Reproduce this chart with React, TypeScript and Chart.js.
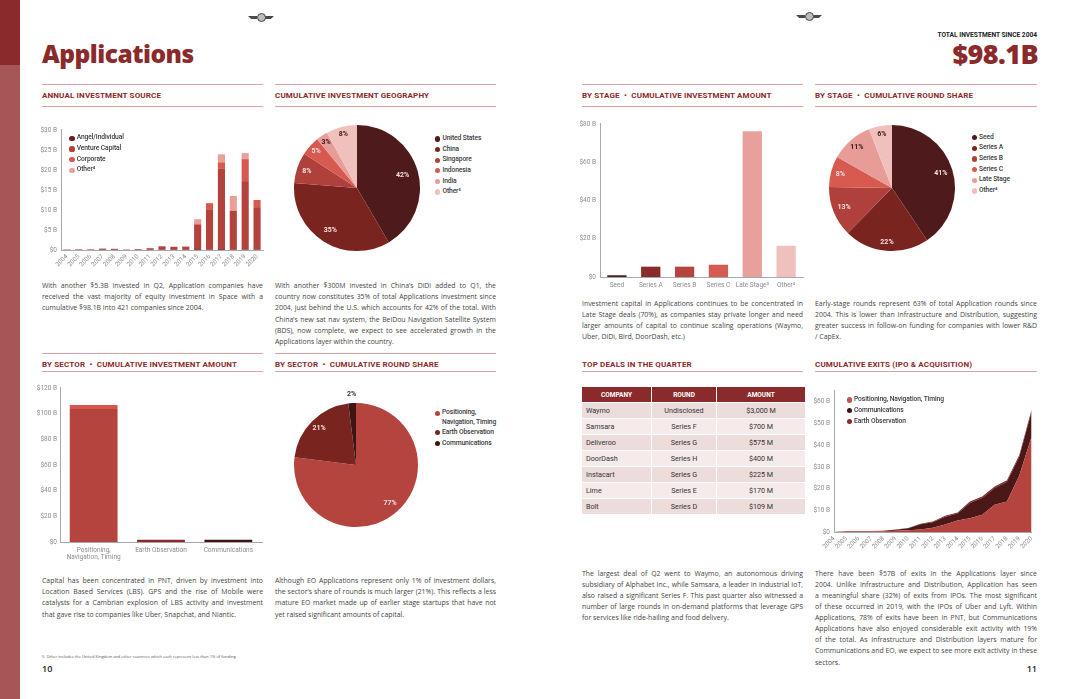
import React, { useEffect, useRef } from "react";
import { Chart, registerables } from "chart.js";

Chart.register(...registerables);
Chart.defaults.font.family = "Roboto";

// ---------------- DATA ----------------
const years = ["2004","2005","2006","2007","2008","2009","2010","2011","2012","2013","2014","2015","2016","2017","2018","2019","2020"];

const sourceLabels = ["Angel/Individual", "Venture Capital", "Corporate", "Other⁴"];
const sourceAngel = [0.05,0.05,0.05,0.1,0.1,0.05,0.05,0.1,0.1,0.1,0.1,0.2,0.1,0.2,0.1,0.1,0.1];
const sourceVC = [0.05,0.1,0.1,0.25,0.2,0.05,0.15,0.35,0.8,0.65,0.7,6.1,9.9,20.2,9.7,17.1,10.6];
const sourceCorporate = [0,0,0,0,0,0,0,0,0.05,0,0.05,0.3,1.7,1.5,0,5.5,1.8];
const sourceOther = [0,0,0,0,0,0,0,0,0.05,0.1,0.05,1.1,0,2.0,3.7,1.5,0];
const sourceColors = ["#6e1c1c", "#b3423d", "#d6584e", "#e9a09d"];
const sourceTicks = [0, 5, 10, 15, 20, 25, 30];

const geoLabels = ["United States", "China", "Singapore", "Indonesia", "India", "Other⁵"];
const geoShare = [42, 35, 8, 5, 3, 8];
const geoColors = ["#4f1a1b", "#7a2420", "#b0403c", "#d65a50", "#e89c98", "#f0c0bd"];

const sectorAxisLabels = [["Positioning,", "Navigation, Timing"], "Earth Observation", "Communications"];
const sectorAmount = [103.5, 1.8, 1.8];
const sectorAmountTop = [3.2, 0, 0];
const sectorColors = ["#b5443f", "#8b2a2a", "#3e1414"];
const sectorRoundShare = [77, 21, 2];
const sectorPieColors = ["#b5443f", "#7a2420", "#3e1414"];

const stageAxisLabels = ["Seed", "Series A", "Series B", "Series C", "Late Stage³", "Other⁴"];
const stageAmount = [0.9, 5.4, 5.4, 6.4, 76.2, 16.3];
const stageColors = ["#4f1a1b", "#8b2a2a", "#b5443f", "#d65a50", "#e8a09c", "#f0c0bd"];
const stagePieLabels = ["Seed", "Series A", "Series B", "Series C", "Late Stage", "Other⁴"];
const stageRoundShare = [41, 22, 13, 8, 11, 6];
const stagePieColors = ["#4f1a1b", "#7a2420", "#b0403c", "#d65a50", "#e89c98", "#f0c0bd"];

const dealCompanies = ["Waymo", "Samsara", "Deliveroo", "DoorDash", "Instacart", "Lime", "Bolt"];
const dealRounds = ["Undisclosed", "Series F", "Series G", "Series H", "Series G", "Series E", "Series D"];
const dealAmounts = ["$3,000 M", "$700 M", "$575 M", "$400 M", "$225 M", "$170 M", "$109 M"];

const exitLabels = ["Positioning, Navigation, Timing", "Communications", "Earth Observation"];
const exitPNT = [0,0.3,0.3,0.3,0.4,0.6,0.8,1.2,2.0,3.5,5.3,6.3,8.0,12.5,14.0,26.0,44.0];
const exitComms = [0,0.15,0.15,0.15,0.15,0.4,0.9,2.4,2.5,3.5,3.2,7.1,7.7,7.8,9.1,8.7,11.6];
const exitEO = [0,0.05,0.05,0.05,0.05,0.1,0.1,0.2,0.3,0.5,0.5,0.6,0.6,0.7,0.7,0.8,0.9];
const exitColors = ["#b5443f", "#4a1818", "#8b2a2a"];
const exitLegendColors = ["#c9504a", "#3e1414", "#8b2a2a"];

// ---------------- STYLE HELPERS ----------------
const RED = "#8b2a2b";
const tickFont = { family: "Roboto", size: 6.5 };
const tickColor = "#8c8c8c";
const axisBorder = { display: true, color: "#a8a8a8", width: 1 };
const noGrid = { display: false, drawTicks: false, tickLength: 0 };
const money = (v: any) => (Number(v) === 0 ? "$0" : `$${v} B`);

const pieLabelPlugin = {
  id: "pieLabels",
  afterDatasetsDraw(chart: any, _args: any, opts: any) {
    const meta = chart.getDatasetMeta(0);
    const ctx = chart.ctx;
    const values = chart.data.datasets[0].data;
    meta.data.forEach((arc: any, i: number) => {
      const mid = (arc.startAngle + arc.endAngle) / 2;
      const r = arc.outerRadius * (opts.radii ? opts.radii[i] : 0.83);
      ctx.save();
      ctx.font = "bold 7px Roboto";
      ctx.fillStyle = opts.colors[i];
      ctx.textAlign = "center";
      ctx.textBaseline = "middle";
      ctx.fillText(`${values[i]}%`, arc.x + Math.cos(mid) * r, arc.y + Math.sin(mid) * r);
      ctx.restore();
    });
  },
};

function ChartCanvas({ left, top, width, height, make }: any) {
  const ref = useRef<HTMLCanvasElement>(null);
  useEffect(() => {
    const chart = new Chart(ref.current as HTMLCanvasElement, make());
    return () => chart.destroy();
  }, []);
  return (
    <canvas
      ref={ref}
      width={width}
      height={height}
      style={{ position: "absolute", left, top, width, height }}
    />
  );
}

function pieConfig(values: number[], colors: string[], pad: number, labelColors: string[], radii: number[]) {
  return () => ({
    type: "pie",
    data: { labels: values.map((_, i) => String(i)), datasets: [{ data: values, backgroundColor: colors, borderWidth: 0 }] },
    options: {
      animation: false,
      responsive: false,
      layout: { padding: pad },
      plugins: { legend: { display: false }, tooltip: { enabled: false }, pieLabels: { colors: labelColors, radii } },
    },
    plugins: [pieLabelPlugin],
  });
}

function Header({ x, y, w, text }: any) {
  return (
    <div style={{ position: "absolute", left: x, top: y, width: w, height: 22 }}>
      <div style={{ position: "absolute", left: 0, top: 0, width: w, height: 1, background: "#d8a4a2" }} />
      <div style={{ position: "absolute", left: 0, top: 7, font: "bold 8px Roboto", color: RED, lineHeight: "10px", letterSpacing: "0.15px", whiteSpace: "pre" }}>{text}</div>
      <div style={{ position: "absolute", left: 0, top: 21.5, width: w, height: 1, background: "#d8a4a2" }} />
    </div>
  );
}

function HeaderBelow({ x, y, w, text }: any) {
  return (
    <div style={{ position: "absolute", left: x, top: y, width: w, height: 12 }}>
      <div style={{ position: "absolute", left: 0, top: 0, font: "bold 8px Roboto", color: RED, lineHeight: "10px", letterSpacing: "0.15px", whiteSpace: "pre" }}>{text}</div>
      <div style={{ position: "absolute", left: 0, top: 10.5, width: w, height: 1, background: "#d8a4a2" }} />
    </div>
  );
}

function Para({ x, y, w, lines, lh = 11.2 }: any) {
  return (
    <div style={{ position: "absolute", left: x, top: y, width: w, font: '6.9px "Open Sans"', lineHeight: `${lh}px`, color: "#444" }}>
      {lines.map((l: string, i: number) => (
        <div key={i} style={{ textAlign: "justify", textAlignLast: i === lines.length - 1 ? "left" : "justify", height: lh }}>{l}</div>
      ))}
    </div>
  );
}

function Legend({ x, items }: any) {
  return (
    <>
      {items.map((it: any, i: number) => (
        <div key={i} style={{ position: "absolute", left: x - 2.6, top: it.y - 2.6 }}>
          <div style={{ position: "absolute", left: 0, top: 0, width: 5.2, height: 5.2, borderRadius: "50%", background: it.color }} />
          <div style={{ position: "absolute", left: 7.3, top: -2.3, font: "500 6.7px Roboto", letterSpacing: "-0.1px", lineHeight: "9.5px", color: "#3a3a3e", whiteSpace: "pre" }}>{it.label}</div>
        </div>
      ))}
    </>
  );
}

function Logo({ cx, cy }: any) {
  return (
    <div style={{ position: "absolute", left: cx - 13, top: cy - 5 }}>
      <div style={{ position: "absolute", left: 0, top: 3, width: 9, height: 3, background: "#4a4a4a", clipPath: "polygon(0 0,100% 0,100% 100%,35% 100%)" }} />
      <div style={{ position: "absolute", left: 17, top: 3, width: 9, height: 3, background: "#4a4a4a", clipPath: "polygon(0 0,100% 0,65% 100%,0 100%)" }} />
      <div style={{ position: "absolute", left: 8.5, top: 0, width: 9, height: 9, boxSizing: "border-box", borderRadius: "50%", border: "1.6px solid #444", background: "#bdbdbd" }} />
    </div>
  );
}

// ---------------- CHART CONFIGS ----------------
const makeSource = () => ({
  type: "bar",
  data: {
    labels: years,
    datasets: [sourceAngel, sourceVC, sourceCorporate, sourceOther].map((d, i) => ({
      label: sourceLabels[i], data: d, backgroundColor: sourceColors[i], borderWidth: 0,
    })),
  },
  options: {
    animation: false,
    responsive: false,
    layout: { padding: { top: 3, right: 7, left: 0, bottom: 0 } },
    plugins: { legend: { display: false }, tooltip: { enabled: false } },
    datasets: { bar: { barPercentage: 0.6, categoryPercentage: 1 } },
    scales: {
      x: {
        stacked: true, grid: noGrid, border: axisBorder,
        ticks: { font: { family: "Roboto", size: 6.3 }, color: tickColor, minRotation: 45, maxRotation: 45, padding: 3, autoSkip: false },
        afterFit: (s: any) => { s.height = 26; },
      },
      y: {
        stacked: true, min: 0, max: 30, grid: noGrid, border: axisBorder,
        afterBuildTicks: (s: any) => { s.ticks = sourceTicks.map((v) => ({ value: v })); },
        ticks: { font: tickFont, color: tickColor, padding: 4, callback: money },
        afterFit: (s: any) => { s.width = 41; },
      },
    },
  },
});

const makeSectorBar = () => ({
  type: "bar",
  data: {
    labels: sectorAxisLabels,
    datasets: [
      { data: sectorAmount, backgroundColor: sectorColors, borderWidth: 0 },
      { data: sectorAmountTop, backgroundColor: "#d4564c", borderWidth: 0 },
    ],
  },
  options: {
    animation: false,
    responsive: false,
    layout: { padding: { top: 3, right: 8, left: 0, bottom: 0 } },
    plugins: { legend: { display: false }, tooltip: { enabled: false } },
    datasets: { bar: { barPercentage: 0.71, categoryPercentage: 1 } },
    scales: {
      x: {
        stacked: true, grid: noGrid, border: axisBorder,
        ticks: { font: tickFont, color: tickColor, maxRotation: 0, padding: 4, autoSkip: false },
        afterFit: (s: any) => { s.height = 28; },
      },
      y: {
        stacked: true, min: 0, max: 120, grid: noGrid, border: axisBorder,
        ticks: { stepSize: 20, font: tickFont, color: tickColor, padding: 3, callback: money },
        afterFit: (s: any) => { s.width = 40; },
      },
    },
  },
});

const makeStageBar = () => ({
  type: "bar",
  data: {
    labels: stageAxisLabels,
    datasets: [{ data: stageAmount, backgroundColor: stageColors, borderWidth: 0 }],
  },
  options: {
    animation: false,
    responsive: false,
    layout: { padding: { top: 3, right: 7, left: 0, bottom: 0 } },
    plugins: { legend: { display: false }, tooltip: { enabled: false } },
    datasets: { bar: { barPercentage: 0.57, categoryPercentage: 1 } },
    scales: {
      x: {
        grid: noGrid, border: axisBorder,
        ticks: { font: tickFont, color: tickColor, maxRotation: 0, padding: 4, autoSkip: false },
        afterFit: (s: any) => { s.height = 17; },
      },
      y: {
        min: 0, max: 80, grid: noGrid, border: axisBorder,
        ticks: { stepSize: 20, font: tickFont, color: tickColor, padding: 4, callback: money },
        afterFit: (s: any) => { s.width = 40; },
      },
    },
  },
});

const makeExits = () => ({
  type: "line",
  data: {
    labels: years,
    datasets: [exitPNT, exitComms, exitEO].map((d, i) => ({
      label: exitLabels[i], data: d, backgroundColor: exitColors[i], borderWidth: 0,
      pointRadius: 0, fill: i === 0 ? "origin" : "-1", tension: 0,
    })),
  },
  options: {
    animation: false,
    responsive: false,
    layout: { padding: { top: 3, right: 7, left: 0, bottom: 0 } },
    plugins: { legend: { display: false }, tooltip: { enabled: false } },
    scales: {
      x: {
        offset: false, grid: noGrid, border: axisBorder,
        ticks: { font: { family: "Roboto", size: 6.3 }, color: tickColor, minRotation: 45, maxRotation: 45, padding: 3, autoSkip: false },
        afterFit: (s: any) => { s.height = 21; },
      },
      y: {
        stacked: true, min: 0, max: 65, grid: noGrid, border: axisBorder,
        ticks: { stepSize: 10, font: tickFont, color: tickColor, padding: 4, callback: (v: any) => (Number(v) % 10 === 0 ? money(v) : "") },
        afterFit: (s: any) => { s.width = 39; },
      },
    },
  },
});

// ---------------- TEXT ----------------
const p1 = [
  "With another $5.3B invested in Q2, Application companies have",
  "received the vast majority of equity investment in Space with a",
  "cumulative $98.1B into 421 companies since 2004.",
];
const p2 = [
  "With another $300M invested in China’s DiDi added to Q1, the",
  "country now constitutes 35% of total Applications investment since",
  "2004, just behind the U.S. which accounts for 42% of the total. With",
  "China’s new sat nav system, the BeiDou Navigation Satellite System",
  "(BDS), now complete, we expect to see accelerated growth in the",
  "Applications layer within the country.",
];
const p3 = [
  "Capital has been concentrated in PNT, driven by investment into",
  "Location Based Services (LBS). GPS and the rise of Mobile were",
  "catalysts for a Cambrian explosion of LBS activity and investment",
  "that gave rise to companies like Uber, Snapchat, and Niantic.",
];
const p4 = [
  "Although EO Applications represent only 1% of investment dollars,",
  "the sector’s share of rounds is much larger (21%). This reflects a less",
  "mature EO market made up of earlier stage startups that have not",
  "yet raised significant amounts of capital.",
];
const p5 = [
  "Investment capital in Applications continues to be concentrated in",
  "Late Stage deals (70%), as companies stay private longer and need",
  "larger amounts of capital to continue scaling operations (Waymo,",
  "Uber, DiDi, Bird, DoorDash, etc.)",
];
const p6 = [
  "Early-stage rounds represent 63% of total Application rounds since",
  "2004. This is lower than Infrastructure and Distribution, suggesting",
  "greater success in follow-on funding for companies with lower R&D",
  "/ CapEx.",
];
const p7 = [
  "The largest deal of Q2 went to Waymo, an autonomous driving",
  "subsidiary of Alphabet Inc., while Samsara, a leader in industrial IoT,",
  "also raised a significant Series F. This past quarter also witnessed a",
  "number of large rounds in on-demand platforms that leverage GPS",
  "for services like ride-hailing and food delivery.",
];
const p8 = [
  "There have been $57B of exits in the Applications layer since",
  "2004. Unlike Infrastructure and Distribution, Application has seen",
  "a meaningful share (32%) of exits from IPOs. The most significant",
  "of these occurred in 2019, with the IPOs of Uber and Lyft. Within",
  "Applications, 78% of exits have been in PNT, but Communications",
  "Applications have also enjoyed considerable exit activity with 19%",
  "of the total. As Infrastructure and Distribution layers mature for",
  "Communications and EO, we expect to see more exit activity in these",
  "sectors.",
];

function DealsTable() {
  const cols = [70, 65, 88];
  const heads = ["COMPANY", "ROUND", "AMOUNT"];
  const left = 582, top = 387;
  const cellBase: any = { position: "absolute", boxSizing: "border-box", display: "flex", alignItems: "center" };
  const els: any[] = [];
  let cx = left;
  heads.forEach((h, j) => {
    els.push(
      <div key={"h" + j} style={{ ...cellBase, left: cx, top, width: cols[j], height: 15, background: RED, justifyContent: "center", color: "#fff", font: "bold 6.5px Roboto", borderRight: j < 2 ? "1px solid #fff" : "none" }}>{h}</div>
    );
    cx += cols[j];
  });
  dealCompanies.forEach((c, i) => {
    const vals = [c, dealRounds[i], dealAmounts[i]];
    let x = left;
    vals.forEach((v, j) => {
      els.push(
        <div key={`r${i}c${j}`} style={{ ...cellBase, left: x, top: top + 15 + i * 16, width: cols[j], height: 16, background: i % 2 === 0 ? "#ecdcdb" : "#f5ebea", justifyContent: j === 0 ? "flex-start" : "center", paddingLeft: j === 0 ? 4 : 0, color: "#333338", font: "7.2px Roboto", borderRight: j < 2 ? "1px solid #fff" : "none", borderTop: "1px solid #fff" }}>{v}</div>
      );
      x += cols[j];
    });
  });
  return <>{els}</>;
}

export default function App() {
  const light = "#f6dede";
  const dark = "#3a1a1a";
  return (
    <div style={{ position: "absolute", left: 0, top: 0, width: 1080, height: 699, overflow: "hidden", background: "#fff", fontFamily: "Roboto" }}>
      {/* left stripe */}
      <div style={{ position: "absolute", left: 0, top: 0, width: 20, height: 65, background: "#8a2a2c" }} />
      <div style={{ position: "absolute", left: 0, top: 65, width: 20, height: 634, background: "#a65656" }} />

      <Logo cx={261} cy={18} />
      <Logo cx={809} cy={17} />

      <div style={{ position: "absolute", left: 42, top: 39, font: '800 24.5px "Open Sans"', letterSpacing: "-0.5px", color: RED, lineHeight: "30px" }}>Applications</div>

      <div style={{ position: "absolute", right: 1080 - 1037, top: 31, font: "bold 6.6px Roboto", color: "#222", lineHeight: "8px", textAlign: "right" }}>TOTAL INVESTMENT SINCE 2004</div>
      <div style={{ position: "absolute", right: 1080 - 1038, top: 38, font: '800 27px "Open Sans"', letterSpacing: "-0.6px", color: RED, lineHeight: "32px", textAlign: "right" }}>$98.1B</div>

      {/* headers row 1 */}
      <Header x={42} y={84} w={221} text="ANNUAL INVESTMENT SOURCE" />
      <Header x={275} y={84} w={221} text="CUMULATIVE INVESTMENT GEOGRAPHY" />
      <Header x={582} y={84} w={221} text={"BY STAGE  •  CUMULATIVE INVESTMENT AMOUNT"} />
      <Header x={815} y={84} w={222} text={"BY STAGE  •  CUMULATIVE ROUND SHARE"} />

      {/* chart 1 */}
      <ChartCanvas left={20} top={122} width={250} height={154} make={makeSource} />
      <Legend x={72} items={sourceLabels.map((l, i) => ({ label: l, color: sourceColors[i], y: 138.3 + i * 10.65 }))} />

      {/* chart 2 */}
      <ChartCanvas left={287} top={118} width={140} height={140}
        make={pieConfig(geoShare, geoColors, 7, [light, light, light, light, dark, dark], [0.75, 0.8, 0.84, 0.87, 0.88, 0.88])} />
      <Legend x={437.7} items={geoLabels.map((l, i) => ({ label: l, color: geoColors[i], y: 139 + i * 10.6 }))} />

      {/* stage bar */}
      <ChartCanvas left={560} top={116} width={250} height={178} make={makeStageBar} />

      {/* stage pie */}
      <ChartCanvas left={822} top={118} width={140} height={140}
        make={pieConfig(stageRoundShare, stagePieColors, 7, [light, light, light, light, dark, dark], [0.81, 0.86, 0.82, 0.85, 0.85, 0.87])} />
      <Legend x={974.3} items={stagePieLabels.map((l, i) => ({ label: l, color: stagePieColors[i], y: 137.7 + i * 10.65 }))} />

      <Para x={42} y={280} w={221} lines={p1} />
      <Para x={275} y={280} w={221} lines={p2} />
      <Para x={582} y={297.5} w={221} lines={p5} />
      <Para x={815} y={297.5} w={222} lines={p6} />

      {/* row 2 headers */}
      <div style={{ position: "absolute", left: 42, top: 353, width: 221, height: 1, background: "#d8a4a2" }} />
      <div style={{ position: "absolute", left: 275, top: 353, width: 221, height: 1, background: "#d8a4a2" }} />
      <HeaderBelow x={42} y={360} w={221} text={"BY SECTOR  •  CUMULATIVE INVESTMENT AMOUNT"} />
      <HeaderBelow x={275} y={360} w={221} text={"BY SECTOR  •  CUMULATIVE ROUND SHARE"} />
      <HeaderBelow x={582} y={360} w={221} text="TOP DEALS IN THE QUARTER" />
      <HeaderBelow x={815} y={360} w={222} text="CUMULATIVE EXITS (IPO & ACQUISITION)" />

      {/* sector bar */}
      <ChartCanvas left={20} top={381} width={250} height={189} make={makeSectorBar} />

      {/* sector pie */}
      <ChartCanvas left={281} top={390} width={150} height={150}
        make={pieConfig(sectorRoundShare, sectorPieColors, 13, [light, light, "#333"], [0.83, 0.84, 1.14])} />
      <Legend x={437.3} items={[
        { label: "Positioning,\nNavigation, Timing", color: sectorPieColors[0], y: 413.3 },
        { label: "Earth Observation", color: sectorPieColors[1], y: 432.8 },
        { label: "Communications", color: sectorPieColors[2], y: 443.4 },
      ]} />

      <DealsTable />

      {/* exits */}
      <ChartCanvas left={795} top={383} width={245} height={170} make={makeExits} />
      <Legend x={849.3} items={exitLabels.map((l, i) => ({ label: l, color: exitLegendColors[i], y: 400 + i * 10.8 }))} />

      <Para x={42} y={575} w={221} lines={p3} />
      <Para x={275} y={575} w={221} lines={p4} />
      <Para x={582} y={567.5} w={221} lines={p7} />
      <Para x={815} y={567.5} w={222} lines={p8} lh={11.15} />

      <div style={{ position: "absolute", left: 42, top: 654, font: '4px "Open Sans"', color: "#555", lineHeight: "5px" }}>5. Other includes the United Kingdom and other countries which each represent less than 1% of funding.</div>
      <div style={{ position: "absolute", left: 42, top: 663, font: '600 9px "Open Sans"', color: "#222", lineHeight: "12px" }}>10</div>
      <div style={{ position: "absolute", right: 1080 - 1037, top: 663, font: '600 9px "Open Sans"', color: "#222", lineHeight: "12px" }}>11</div>
    </div>
  );
}
